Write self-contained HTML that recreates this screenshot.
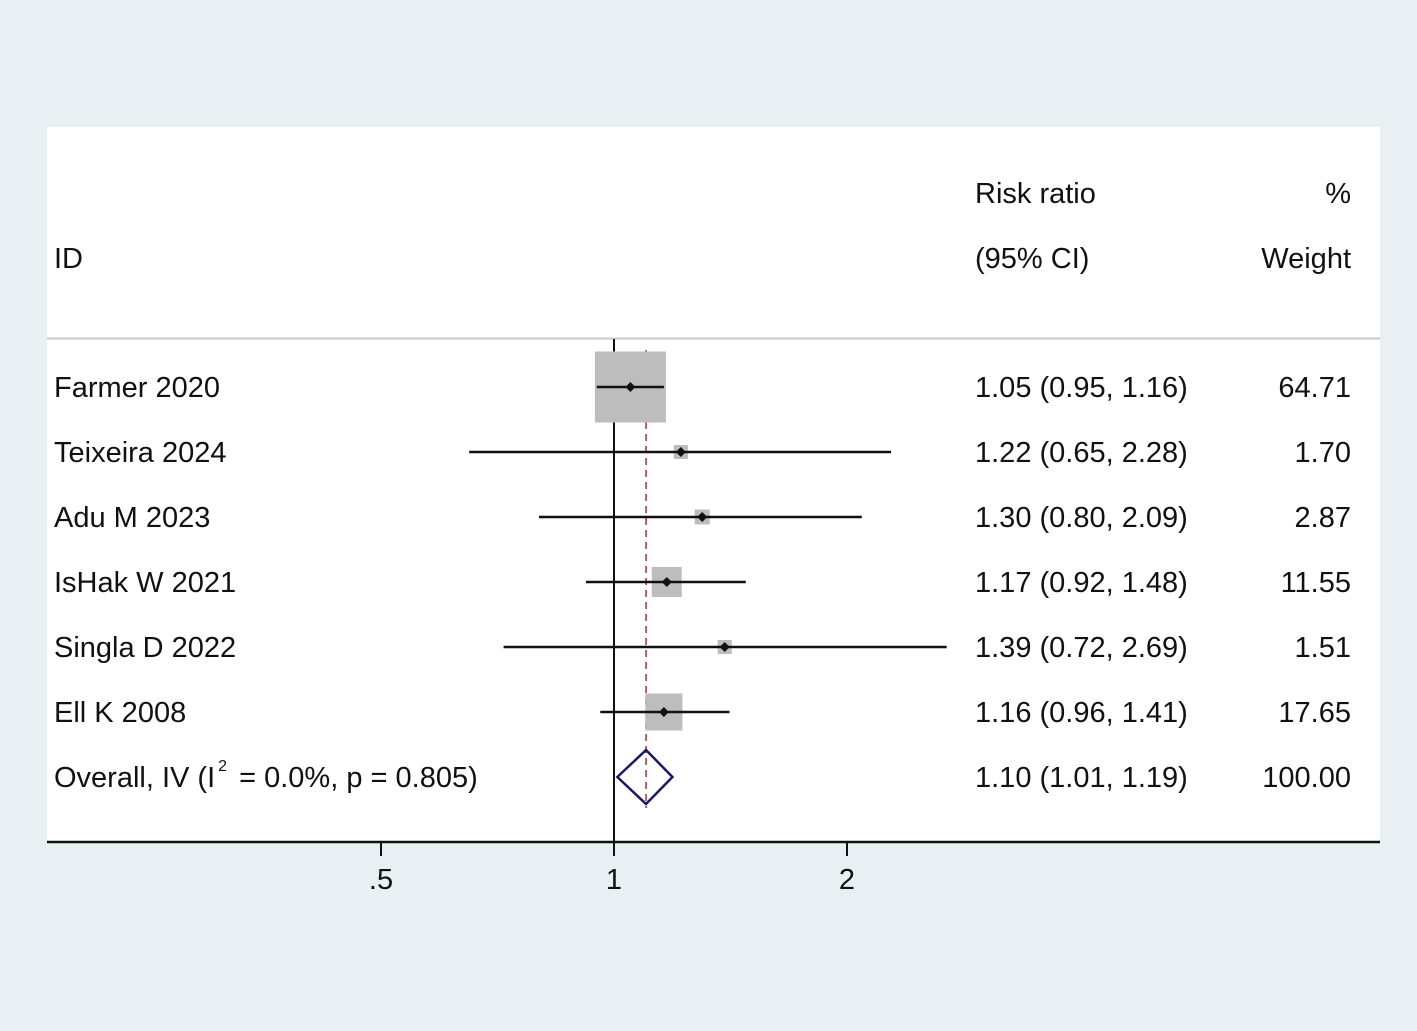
<!DOCTYPE html>
<html><head><meta charset="utf-8"><style>
html,body{margin:0;padding:0;background:#e9f0f3;}
svg{display:block;font-family:"Liberation Sans",Arial,sans-serif;}
text{fill:#111;}
</style></head><body>
<svg id="chart" width="1417" height="1031">
<rect x="0" y="0" width="1417" height="1031" fill="#e9f0f3"/>
<rect x="47" y="127" width="1333" height="715" fill="#ffffff"/>
<line x1="47" y1="338.5" x2="1380" y2="338.5" stroke="#c8c8c8" stroke-width="2"/>
<text x="54" y="268" font-size="29">ID</text>
<text x="975" y="203" font-size="29">Risk ratio</text>
<text x="975" y="268" font-size="29">(95% CI)</text>
<text x="1351" y="203" font-size="29" text-anchor="end">%</text>
<text x="1351" y="268" font-size="29" text-anchor="end">Weight</text>
<g id="marks"></g>
</svg>
<script>
const studies = ["Farmer 2020","Teixeira 2024","Adu M 2023","IsHak W 2021","Singla D 2022","Ell K 2008"];
const rr = [1.05,1.22,1.30,1.17,1.39,1.16];
const lower = [0.95,0.65,0.80,0.92,0.72,0.96];
const upper = [1.16,2.28,2.09,1.48,2.69,1.41];
const weights = [64.71,1.70,2.87,11.55,1.51,17.65];
const overall = [1.10,1.01,1.19];
const tickValues = [0.5,1,2];
const tickLabels = [".5","1","2"];

const NS="http://www.w3.org/2000/svg";
const g=document.getElementById('marks');
const xs=v=>614+233*Math.log2(v);
const rowY=i=>387+65*i;
const FS=29;
function mk(tag,attrs){const e=document.createElementNS(NS,tag);for(const k in attrs)e.setAttribute(k,attrs[k]);g.appendChild(e);return e;}
function fmt(a,b,c){return a.toFixed(2)+" ("+b.toFixed(2)+", "+c.toFixed(2)+")";}

let e=mk('line',{x1:614,y1:339,x2:614,y2:842,stroke:'#111','stroke-width':2});


e=mk('line',{x1:xs(overall[0]),y1:350,x2:xs(overall[0]),y2:808,stroke:'#a0303a','stroke-width':1.5,'stroke-dasharray':'7,5'});



const maxW=Math.max(...weights);
studies.forEach((s,i)=>{
  const y=rowY(i);
  const side=Math.max(14,71*Math.sqrt(weights[i]/maxW));
  let b=mk('rect',{x:xs(rr[i])-side/2,y:y-side/2,width:side,height:side,fill:'#bdbdbd'});
  
  
  let l=mk('line',{x1:xs(lower[i]),y1:y,x2:xs(upper[i]),y2:y,stroke:'#111','stroke-width':2.5});
  
  
  const cx=xs(rr[i]);
  let p=mk('polygon',{points:`${cx-5},${y} ${cx},${y-5} ${cx+5},${y} ${cx},${y+5}`,fill:'#111'});
  
  
  let t=mk('text',{x:54,y:y+10,'font-size':FS});t.textContent=s;
  
  
  t=mk('text',{x:975,y:y+10,'font-size':FS});t.textContent=fmt(rr[i],lower[i],upper[i]);
  
  
  t=mk('text',{x:1351,y:y+10,'font-size':FS,'text-anchor':'end'});t.textContent=weights[i].toFixed(2);
  
  
});
const oy=rowY(studies.length);
let d=mk('polygon',{points:`${xs(overall[1])},${oy} ${xs(overall[0])},${oy-27} ${xs(overall[2])},${oy} ${xs(overall[0])},${oy+27}`,fill:'none',stroke:'#1a1a5e','stroke-width':2.5});


let t=mk('text',{x:54,y:oy+10,'font-size':FS});
t.innerHTML='Overall, IV (I<tspan dx="3" dy="-16" font-size="16">2</tspan><tspan dx="4" dy="16"> = 0.0%, p = 0.805)</tspan>';


t=mk('text',{x:975,y:oy+10,'font-size':FS});t.textContent=fmt(overall[0],overall[1],overall[2]);


t=mk('text',{x:1351,y:oy+10,'font-size':FS,'text-anchor':'end'});t.textContent=(100).toFixed(2);



let ax=mk('line',{x1:47,y1:842,x2:1380,y2:842,stroke:'#111','stroke-width':2.5});


tickValues.forEach((v,i)=>{
  let tk=mk('line',{x1:xs(v),y1:842,x2:xs(v),y2:856,stroke:'#111','stroke-width':2});
  
  
  let tl=mk('text',{x:xs(v),y:889,'font-size':FS,'text-anchor':'middle'});tl.textContent=tickLabels[i];
  
  
});
</script>
</body></html>
